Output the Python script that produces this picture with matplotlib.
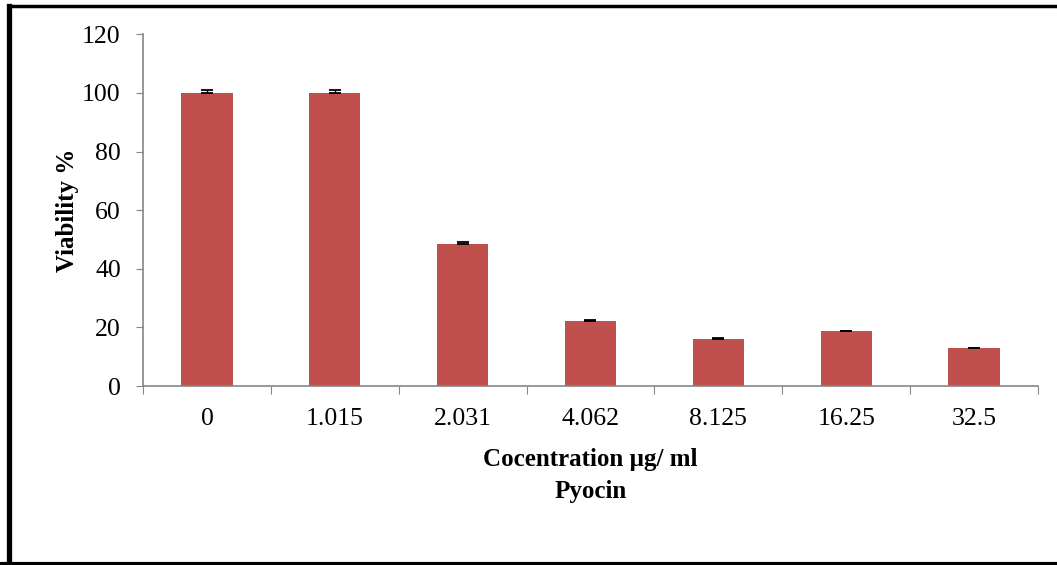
import matplotlib

matplotlib.use("Agg")
import matplotlib.pyplot as plt
import numpy as np
from matplotlib.lines import Line2D

concentrations = ["0", "1.015", "2.031", "4.062", "8.125", "16.25", "32.5"]
viability = [100.0, 100.0, 48.5, 22.2, 16.2, 18.6, 12.8]
errors = [0.9, 0.9, 0.5, 0.3, 0.3, 0.3, 0.3]

plt.rcParams["font.family"] = ["Liberation Serif", "DejaVu Serif"]

fig = plt.figure(figsize=(10.57, 5.65), dpi=100)
ax = fig.add_axes([0.1353, 0.3168, 0.8467, 0.6225])

x = np.arange(len(concentrations))
ax.bar(x, viability, width=0.4, color="#C0504D", zorder=2)
ax.errorbar(x, viability, yerr=[[0] * len(errors), errors], fmt="none",
            ecolor="black", elinewidth=1.0, capsize=4.5, capthick=1.3, zorder=3)

ax.set_xlim(-0.5, len(concentrations) - 0.5)
ax.set_ylim(0, 120)
ax.set_yticks(range(0, 121, 20))
ax.tick_params(axis="y", labelsize=18.5, direction="out", length=5, color="#868686", pad=11)

# ticks at the category boundaries, labels at the centres
ax.set_xticks(np.arange(-0.5, len(concentrations), 1.0))
ax.set_xticklabels([])
ax.set_xticks(x, minor=True)
ax.set_xticklabels(concentrations, minor=True, fontsize=18.5)
ax.tick_params(axis="x", which="major", direction="out", length=6, color="#868686")
ax.tick_params(axis="x", which="minor", length=0, pad=16)

for side in ["top", "right"]:
    ax.spines[side].set_visible(False)
for side in ["left", "bottom"]:
    ax.spines[side].set_color("#868686")
    ax.spines[side].set_linewidth(1.2)

ax.set_ylabel("Viability %", fontsize=18, fontweight="bold", labelpad=2)
ax.set_xlabel("Cocentration µg/ ml\nPyocin", fontsize=18, fontweight="bold",
              labelpad=13, linespacing=1.5)

# frame around the picture (no right edge, as in the original)
fig.add_artist(Line2D([0.0081, 0.0081], [0.0, 0.9885], transform=fig.transFigure,
                      color="black", linewidth=3.8))
fig.add_artist(Line2D([0.0081, 1.0], [0.9885, 0.9885], transform=fig.transFigure,
                      color="black", linewidth=2.5))
fig.add_artist(Line2D([0.0, 1.0], [0.002, 0.002], transform=fig.transFigure,
                      color="black", linewidth=3.0))

fig.savefig("out.png", dpi=100)
